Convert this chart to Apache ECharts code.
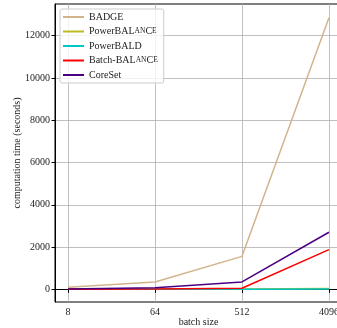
<!DOCTYPE html>
<html><head><meta charset="utf-8">
<script src="https://cdn.jsdelivr.net/npm/echarts@6/dist/echarts.min.js"></script>
<style>html,body{margin:0;padding:0;background:#fff}#c{width:337px;height:328px}</style>
</head><body><div id="c"></div>
<script>
const batchSizes = [8, 64, 512, 4096];
const badge = [100, 350, 1560, 12850];
const powerBalance = [10, 12, 20, 40];
const powerBald = [2, 3, 5, 10];
const batchBalance = [5, 15, 50, 1880];
const coreSet = [20, 70, 350, 2700];
const yTicks = [0, 2000, 4000, 6000, 8000, 10000, 12000];

const FONT = 'Liberation Serif';
const chart = echarts.init(document.getElementById('c'), null, {renderer: 'canvas'});
function mk(name, vals, color) {
  return {name, type: 'line', data: batchSizes.map((b, i) => [b, vals[i]]),
    showSymbol: false, symbol: 'none', lineStyle: {color, width: 1.5}, itemStyle: {color}, z: 3};
}
chart.setOption({
  animation: false,
  textStyle: {fontFamily: FONT},
  grid: {left: 55, top: 4, right: -5, bottom: 26, show: true, borderColor: '#000', borderWidth: 1,
    containLabel: false, outerBoundsMode: 'none'},
  legend: {
    left: 60, top: 9, orient: 'vertical', itemWidth: 21, itemHeight: 2, itemGap: 4.5,
    backgroundColor: 'rgba(255,255,255,0.8)', borderColor: '#ccc', borderWidth: 1, borderRadius: 2,
    padding: [3, 6, 3, 3],
    icon: 'rect',
    textStyle: {fontFamily: FONT, fontSize: 10, color: '#222',
      rich: {s: {fontFamily: FONT, fontSize: 7.5, color: '#222'}, n: {fontFamily: FONT, fontSize: 10, color: '#222'}}},
    formatter: n => n.includes('BALANCE') ? '{n|' + n.replace('BALANCE', 'BAL') + '}{s|AN}{n|C}{s|E}' : n,
    data: ['BADGE', 'PowerBALANCE', 'PowerBALD', 'Batch-BALANCE', 'CoreSet']
  },
  xAxis: {
    type: 'log', logBase: 8, min: 5.86, max: 5595,
    name: 'batch size', nameLocation: 'middle', nameGap: 15, nameMoveOverlap: false,
    nameTextStyle: {fontFamily: FONT, fontSize: 10, color: '#222'},
    axisLine: {show: true, lineStyle: {color: '#000', width: 1}},
    axisTick: {show: true, length: 3.5, lineStyle: {color: '#000'}, customValues: batchSizes},
    minorTick: {show: false},
    axisLabel: {fontFamily: FONT, fontSize: 10, color: '#222', margin: 5, customValues: batchSizes,
      hideOverlap: false, formatter: v => String(Math.round(v))},
    splitLine: {show: true, lineStyle: {color: '#b0b0b0', width: 0.8}}
  },
  yAxis: {
    type: 'value', min: -600, max: 13500,
    name: 'computation time (seconds)', nameLocation: 'middle', nameGap: 33, nameMoveOverlap: false,
    nameTextStyle: {fontFamily: FONT, fontSize: 10, color: '#222'},
    axisLine: {show: true, lineStyle: {color: '#000', width: 1}},
    axisTick: {show: true, length: 3.5, lineStyle: {color: '#000'}, customValues: yTicks},
    axisLabel: {fontFamily: FONT, fontSize: 10, color: '#222', margin: 5, customValues: yTicks,
      formatter: v => String(v)},
    splitLine: {show: true, lineStyle: {color: '#b0b0b0', width: 0.8}}
  },
  series: [
    mk('BADGE', badge, '#d2b48c'),
    mk('PowerBALANCE', powerBalance, '#bcbd22'),
    mk('PowerBALD', powerBald, '#00c8c8'),
    mk('Batch-BALANCE', batchBalance, '#ff0000'),
    mk('CoreSet', coreSet, '#4b0082')
  ]
});
</script></body></html>
